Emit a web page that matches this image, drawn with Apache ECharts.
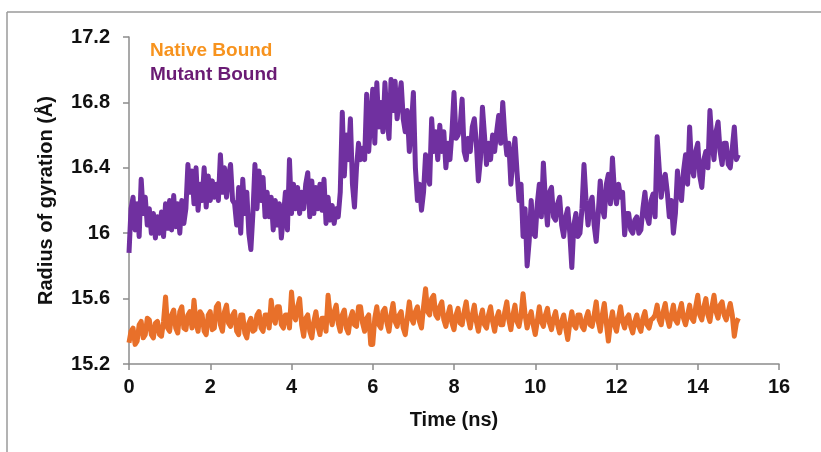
<!DOCTYPE html>
<html>
<head>
<meta charset="utf-8">
<script src="https://cdn.jsdelivr.net/npm/echarts@6/dist/echarts.min.js"></script>
<style>
html,body{margin:0;padding:0;background:#fff;}
#chart{width:821px;height:452px;}
</style>
</head>
<body>
<div id="chart"></div>
<script>
// Sampling step of the trajectory (ns)
var timeStep = 0.05;

// Radius of gyration (Å), t = 0 .. 15 ns (one row = 1 ns)
var nativeBound = [
15.33,15.40,15.42,15.32,15.34,15.44,15.46,15.36,15.38,15.48,15.47,15.38,15.36,15.45,15.46,15.38,15.37,15.46,15.61,15.42,
15.40,15.50,15.53,15.42,15.39,15.52,15.55,15.42,15.41,15.50,15.52,15.42,15.59,15.45,15.40,15.52,15.50,15.40,15.38,15.50,
15.52,15.41,15.42,15.55,15.57,15.44,15.40,15.52,15.56,15.45,15.43,15.50,15.52,15.40,15.38,15.50,15.50,15.39,15.36,15.45,
15.48,15.40,15.41,15.50,15.52,15.42,15.40,15.50,15.50,15.42,15.59,15.48,15.45,15.55,15.55,15.44,15.42,15.50,15.50,15.42,
15.64,15.50,15.47,15.55,15.60,15.44,15.37,15.48,15.50,15.40,15.36,15.46,15.52,15.43,15.38,15.48,15.48,15.40,15.62,15.50,
15.44,15.52,15.56,15.45,15.40,15.50,15.53,15.42,15.39,15.48,15.52,15.44,15.43,15.55,15.55,15.45,15.40,15.48,15.50,15.32,
15.32,15.48,15.55,15.44,15.42,15.52,15.54,15.45,15.40,15.50,15.57,15.46,15.43,15.50,15.52,15.42,15.38,15.48,15.58,15.48,
15.45,15.52,15.55,15.46,15.42,15.55,15.66,15.52,15.50,15.60,15.62,15.50,15.48,15.55,15.58,15.47,15.43,15.50,15.55,15.45,
15.41,15.50,15.54,15.45,15.44,15.52,15.58,15.48,15.42,15.50,15.56,15.46,15.40,15.48,15.53,15.44,15.42,15.50,15.55,15.46,
15.40,15.48,15.52,15.44,15.44,15.52,15.58,15.47,15.41,15.50,15.56,15.46,15.43,15.50,15.63,15.50,15.42,15.48,15.52,15.44,
15.38,15.46,15.55,15.46,15.43,15.50,15.54,15.45,15.41,15.48,15.52,15.44,15.39,15.46,15.50,15.42,15.35,15.45,15.52,15.44,
15.42,15.50,15.50,15.43,15.41,15.48,15.52,15.44,15.43,15.50,15.58,15.46,15.40,15.50,15.57,15.45,15.34,15.45,15.52,15.44,
15.40,15.48,15.55,15.46,15.42,15.48,15.50,15.43,15.39,15.46,15.50,15.43,15.40,15.48,15.52,15.44,15.42,15.47,15.48,15.50,
15.56,15.47,15.44,15.52,15.57,15.48,15.43,15.50,15.56,15.47,15.45,15.52,15.57,15.48,15.44,15.50,15.56,15.48,15.46,15.55,
15.62,15.50,15.47,15.55,15.60,15.50,15.46,15.55,15.62,15.52,15.48,15.56,15.58,15.50,15.47,15.52,15.57,15.50,15.37,15.45,
15.48
];

var mutantBound = [
15.88,16.15,16.22,16.02,16.18,15.98,16.33,16.12,16.22,16.05,16.15,16.00,16.12,15.97,16.10,16.00,16.13,15.98,16.18,16.03,
16.20,16.02,16.23,16.04,16.18,16.00,16.20,16.06,16.15,16.42,16.25,16.38,16.18,16.40,16.14,16.30,16.20,16.40,16.16,16.35,
16.20,16.32,16.22,16.30,16.20,16.48,16.25,16.40,16.22,16.35,16.42,16.20,16.18,16.05,16.28,16.00,16.33,16.12,16.25,16.00,
15.90,16.12,16.42,16.15,16.38,16.20,16.34,16.10,16.25,16.10,16.22,16.02,16.20,16.05,16.18,15.97,16.10,16.25,16.02,16.45,
16.12,16.30,16.15,16.28,16.12,16.25,16.15,16.30,16.37,16.10,16.32,16.12,16.28,16.15,16.30,16.14,16.33,16.06,16.22,16.08,
16.17,16.06,16.15,16.10,16.25,16.74,16.35,16.60,16.45,16.70,16.30,16.16,16.40,16.55,16.45,16.52,16.45,16.85,16.50,16.70,
16.88,16.55,16.92,16.65,16.80,16.62,16.92,16.70,16.58,16.94,16.75,16.93,16.70,16.82,16.92,16.70,16.62,16.75,16.50,16.65,
16.86,16.40,16.20,16.30,16.14,16.25,16.48,16.35,16.30,16.70,16.50,16.62,16.45,16.66,16.50,16.62,16.40,16.55,16.45,16.62,
16.86,16.58,16.60,16.65,16.82,16.50,16.45,16.58,16.50,16.65,16.70,16.55,16.32,16.45,16.77,16.60,16.42,16.55,16.45,16.60,
16.50,16.62,16.72,16.55,16.80,16.60,16.48,16.55,16.30,16.45,16.58,16.38,16.20,16.30,15.98,16.15,15.80,15.95,16.20,16.00,
15.98,16.18,16.30,16.10,16.43,16.20,16.05,16.25,16.28,16.10,16.08,16.18,16.22,16.05,15.98,16.10,16.15,16.00,15.79,16.05,
16.12,15.98,16.00,16.15,16.42,16.20,16.05,16.18,16.22,16.05,15.95,16.12,16.32,16.15,16.10,16.30,16.36,16.18,16.46,16.25,
16.18,16.30,16.22,16.25,15.99,16.12,16.12,16.02,16.00,16.08,16.10,16.00,16.02,16.15,16.25,16.10,16.06,16.20,16.24,16.10,
16.59,16.40,16.22,16.32,16.36,16.25,16.10,16.20,16.00,16.12,16.38,16.25,16.20,16.38,16.48,16.30,16.65,16.40,16.35,16.50,
16.55,16.35,16.28,16.45,16.50,16.40,16.75,16.55,16.45,16.62,16.68,16.50,16.42,16.55,16.55,16.42,16.40,16.52,16.65,16.45,
16.48
];

var xTicks = [0, 2, 4, 6, 8, 10, 12, 14, 16];
var yTicks = [15.2, 15.6, 16, 16.4, 16.8, 17.2];

function toPairs(arr) {
  return arr.map(function (v, i) { return [+(i * timeStep).toFixed(2), v]; });
}

var FONT = '"Liberation Sans", Arial, sans-serif';
var FS = 20;
var chart = echarts.init(document.getElementById('chart'));
chart.setOption({
  animation: false,
  backgroundColor: '#ffffff',
  grid: { left: 129, right: 42, top: 37, bottom: 88, containLabel: false },
  legend: {
    left: 145, top: 36, orient: 'vertical', itemGap: 5,
    itemWidth: 0, itemHeight: 0,
    data: [
      { name: 'Native Bound', icon: 'none', textStyle: { color: '#F7931E' } },
      { name: 'Mutant Bound', icon: 'none', textStyle: { color: '#6A1B74' } }
    ],
    textStyle: { fontFamily: FONT, fontWeight: 'bold', fontSize: 19, padding: [0,0,0,-5] }
  },
  xAxis: {
    type: 'value', min: xTicks[0], max: xTicks[xTicks.length - 1], interval: 2,
    name: 'Time (ns)', nameLocation: 'middle', nameGap: 46,
    nameTextStyle: { fontFamily: FONT, fontWeight: 'bold', fontSize: FS, color: '#111' },
    axisLine: { lineStyle: { color: '#8c8c8c', width: 1.5 } },
    axisTick: { show: true, inside: false, length: 6, lineStyle: { color: '#8c8c8c', width: 1.5 } },
    axisLabel: { margin: 13, fontFamily: FONT, fontWeight: 'bold', fontSize: FS, color: '#111' },
    splitLine: { show: false }
  },
  yAxis: {
    type: 'value', min: yTicks[0], max: yTicks[yTicks.length - 1], interval: 0.4,
    name: 'Radius of gyration (Å)', nameLocation: 'middle', nameGap: 73,
    nameTextStyle: { fontFamily: FONT, fontWeight: 'bold', fontSize: FS, color: '#111' },
    axisLine: { show: true, lineStyle: { color: '#8c8c8c', width: 1.5 } },
    axisTick: { show: true, inside: false, length: 6, lineStyle: { color: '#8c8c8c', width: 1.5 } },
    axisLabel: {
      margin: 19, fontFamily: FONT, fontWeight: 'bold', fontSize: FS, color: '#111',
      formatter: function (v) { return String(+v.toFixed(1)); }
    },
    splitLine: { show: false }
  },
  graphic: [
    { type: 'line', shape: { x1: 7, y1: 12, x2: 821, y2: 12 }, style: { stroke: '#9a9a9a', lineWidth: 1.5 } },
    { type: 'line', shape: { x1: 7, y1: 12, x2: 7, y2: 452 }, style: { stroke: '#9a9a9a', lineWidth: 1.5 } }
  ],
  series: [
    {
      name: 'Native Bound', type: 'line', data: toPairs(nativeBound),
      showSymbol: false, symbol: 'none',
      lineStyle: { color: '#E8702A', width: 5, join: 'round' },
      itemStyle: { color: '#E8702A' }
    },
    {
      name: 'Mutant Bound', type: 'line', data: toPairs(mutantBound),
      showSymbol: false, symbol: 'none',
      lineStyle: { color: '#7030A0', width: 5, join: 'round' },
      itemStyle: { color: '#7030A0' }
    }
  ]
});
</script>
</body>
</html>
